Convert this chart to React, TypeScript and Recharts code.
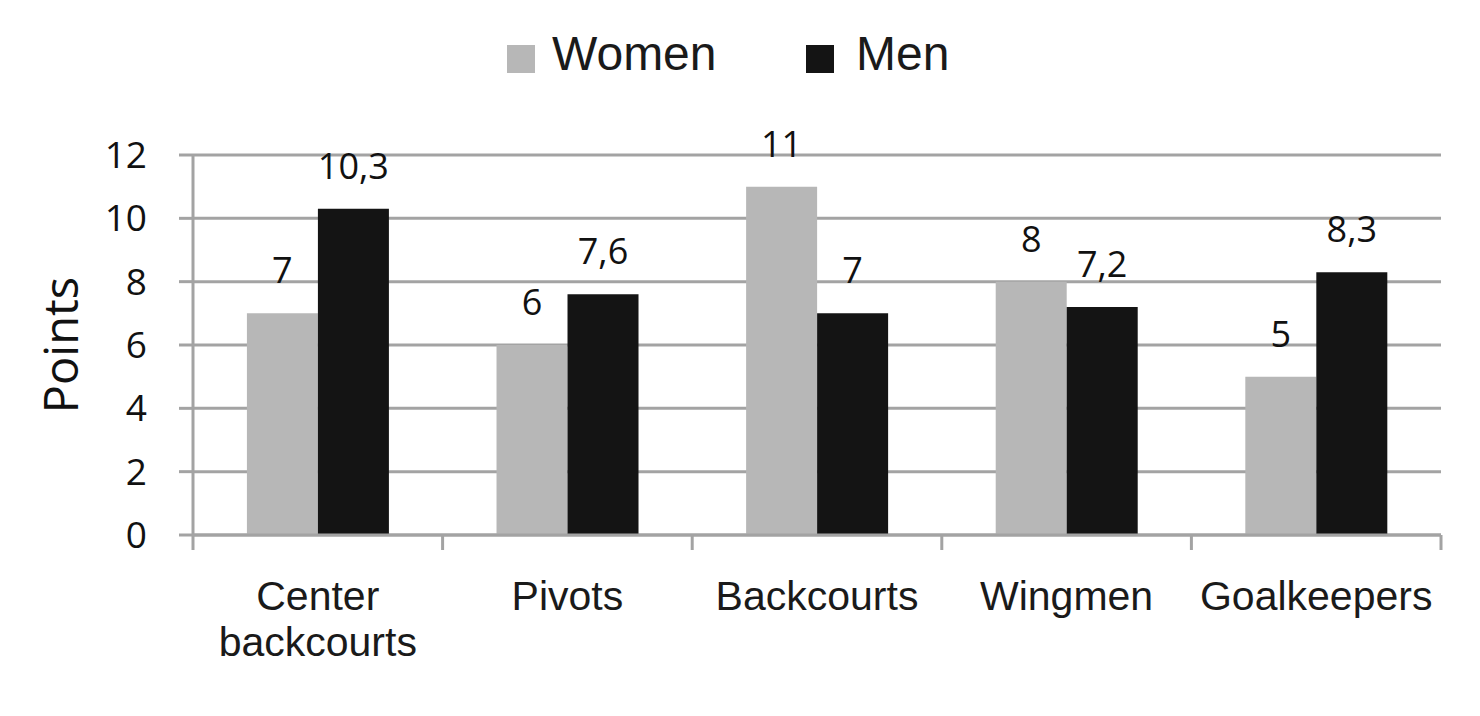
import React from "react";
import { BarChart, Bar, XAxis, YAxis, CartesianGrid, Legend, LabelList, Label } from "recharts";

const categories = ["Center backcourts", "Pivots", "Backcourts", "Wingmen", "Goalkeepers"];
const women = [7, 6, 11, 8, 5];
const men = [10.3, 7.6, 7, 7.2, 8.3];
const yTicks = [0, 2, 4, 6, 8, 10, 12];
const seriesNames = ["Women", "Men"];

const data = categories.map((c, i) => ({ name: c, women: women[i], men: men[i] }));

const GRID = "#a3a3a3";
const WOMEN_C = "#b7b7b7";
const MEN_C = "#141414";
const NUM_FONT = "'Open Sans', sans-serif";
const TXT_FONT = "'Liberation Sans', Arial, sans-serif";

const fmt = (v: any) => String(v).replace(".", ",");

const LegendContent = () => (
  <div style={{ position: "relative", width: 1480, height: 155 }}>
    <div style={{ position: "absolute", left: 507, top: 45, width: 28, height: 28, background: WOMEN_C }} />
    <div style={{ position: "absolute", left: 552, top: 30, fontFamily: TXT_FONT, fontSize: 48, lineHeight: "48px", color: "#1a1a1a" }}>{seriesNames[0]}</div>
    <div style={{ position: "absolute", left: 806, top: 45, width: 28, height: 28, background: MEN_C }} />
    <div style={{ position: "absolute", left: 856, top: 30, fontFamily: TXT_FONT, fontSize: 48, lineHeight: "48px", color: "#1a1a1a" }}>{seriesNames[1]}</div>
  </div>
);

const CatTick = (props: any) => {
  const { x, y, payload, index, visibleTicksCount } = props;
  const half = payload && payload.offset ? payload.offset : 124.8;
  const words: string[] = String(payload.value).split(" ");
  const isLast = index === (visibleTicksCount ?? categories.length) - 1;
  return (
    <g>
      <line x1={x - half} x2={x - half} y1={y} y2={y + 15} stroke={GRID} strokeWidth={3} />
      {isLast && <line x1={x + half} x2={x + half} y1={y} y2={y + 15} stroke={GRID} strokeWidth={3} />}
      <text x={x} y={y} textAnchor="middle" fontFamily={TXT_FONT} fontSize={41} fill="#1a1a1a">
        {words.map((w, i) => (
          <tspan key={i} x={x} y={y + 75 + i * 46}>
            {w}
          </tspan>
        ))}
      </text>
    </g>
  );
};

export default function App() {
  return (
    <div style={{ position: "absolute", left: 0, top: 0, background: "#fff" }}>
      <BarChart
        width={1480}
        height={716}
        data={data}
        margin={{ top: 0, right: 39, bottom: 0, left: 0 }}
        barCategoryGap="21.6%"
        barGap={0}
      >
        <Legend verticalAlign="top" content={<LegendContent />} />
        <CartesianGrid vertical={false} stroke={GRID} strokeWidth={3} />
        <XAxis
          dataKey="name"
          height={181}
          axisLine={{ stroke: GRID, strokeWidth: 3 }}
          tickLine={false}
          tickSize={0}
          tickMargin={0}
          interval={0}
          tick={<CatTick />}
        />
        <YAxis
          width={193}
          domain={[0, 12]}
          ticks={yTicks}
          interval={0}
          tickSize={14}
          tickMargin={32}
          axisLine={{ stroke: GRID, strokeWidth: 3 }}
          tickLine={{ stroke: GRID, strokeWidth: 3 }}
          tick={{ fontFamily: NUM_FONT, fontSize: 37, fill: "#111" }}
        >
          <Label
            value="Points"
            content={() => (
              <text
                x={60}
                y={345}
                transform="rotate(-90 60 345)"
                textAnchor="middle"
                dominantBaseline="central"
                fontFamily={NUM_FONT}
                fontSize={47}
                fill="#111"
              >
                Points
              </text>
            )}
          />
        </YAxis>
        <Bar dataKey="women" name={seriesNames[0]} fill={WOMEN_C} isAnimationActive={false}>
          <LabelList dataKey="women" position="top" offset={30} formatter={fmt} style={{ fontFamily: NUM_FONT, fontSize: 36, fill: "#111" }} />
        </Bar>
        <Bar dataKey="men" name={seriesNames[1]} fill={MEN_C} isAnimationActive={false}>
          <LabelList dataKey="men" position="top" offset={30} formatter={fmt} style={{ fontFamily: NUM_FONT, fontSize: 36, fill: "#111" }} />
        </Bar>
      </BarChart>
    </div>
  );
}
